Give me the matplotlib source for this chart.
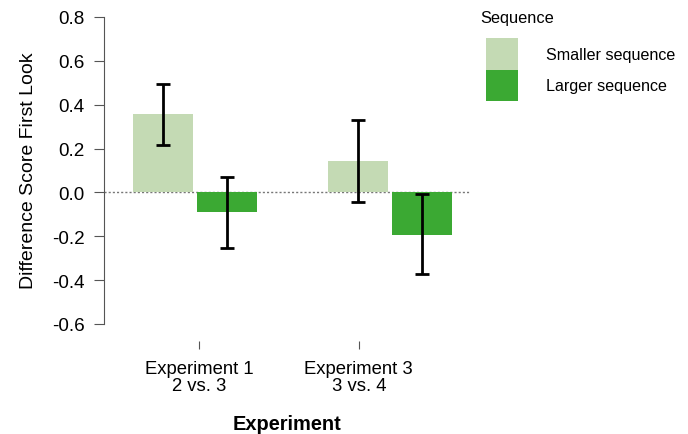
import numpy as np
import matplotlib.pyplot as plt

# values
experiments = ["Experiment 1\n2 vs. 3", "Experiment 3\n3 vs. 4"]
series = ["Smaller sequence", "Larger sequence"]
smaller_mean = [0.356, 0.141]
smaller_lo = [0.214, -0.044]
smaller_hi = [0.496, 0.328]
larger_mean = [-0.091, -0.195]
larger_lo = [-0.252, -0.371]
larger_hi = [0.072, -0.006]
yticks = [-0.6, -0.4, -0.2, 0.0, 0.2, 0.4, 0.6, 0.8]

colors = ["#c4dab4", "#3ba933"]

plt.rcParams['font.family'] = ['Liberation Sans', 'DejaVu Sans']

fig = plt.figure(figsize=(6.88, 4.35), dpi=100)
ax = fig.add_axes([104 / 688, 1 - 342 / 435, (470 - 104) / 688, (342 - 18) / 435])

x = np.arange(len(experiments))
width = 0.308
offset = 0.164

for i, (mean, lo, hi) in enumerate([(smaller_mean, smaller_lo, smaller_hi),
                                     (larger_mean, larger_lo, larger_hi)]):
    pos = x + (i * 2 - 1) * offset
    mean = np.array(mean)
    err = [mean - np.array(lo), np.array(hi) - mean]
    ax.bar(pos, mean, width=width, color=colors[i], label=series[i], zorder=2)
    ax.errorbar(pos, mean, yerr=err, fmt="none", ecolor="black",
                elinewidth=2, capsize=4.7, capthick=2, zorder=3)

ax.axhline(0, color="#777777", linestyle=(0, (1.5, 1.5)), linewidth=1, zorder=1)

ax.set_xlim(-0.467, 1.41)
ax.set_ylim(-0.678, 0.8)

# JASP puts the category ticks slightly off the group centres
ax.set_xticks([0.02, 0.84])
ax.set_xticklabels(experiments, fontsize=13.3, linespacing=1.0)
ax.set_yticks(yticks)
ax.set_yticklabels([f"{v:.1f}" for v in yticks], fontsize=13.6)

for s in ["top", "right", "bottom"]:
    ax.spines[s].set_visible(False)
ax.spines["left"].set_bounds(-0.6, 0.8)
ax.spines["left"].set_color("#555555")
ax.tick_params(axis="y", length=7, width=0.8, color="#555555", pad=7)
ax.tick_params(axis="x", length=6, width=0.8, color="#555555", pad=8)

ax.set_ylabel("Difference Score First Look", fontsize=14)
ax.yaxis.set_label_coords(-0.183, 0.528)
ax.set_xlabel("Experiment", fontsize=14.4, fontweight="bold", labelpad=14)

fig.text(480 / 688, 1 - 18 / 435, "Sequence", fontsize=11.8, va="center", ha="left")
ax.legend(loc="upper left", bbox_to_anchor=(486 / 688, 1 - 39 / 435),
          bbox_transform=fig.transFigure, frameon=False,
          fontsize=11.6, handlelength=2.0, handleheight=2.65, labelspacing=0.0,
          handletextpad=1.7, borderpad=0, borderaxespad=0)

plt.savefig("out.png", dpi=100)
